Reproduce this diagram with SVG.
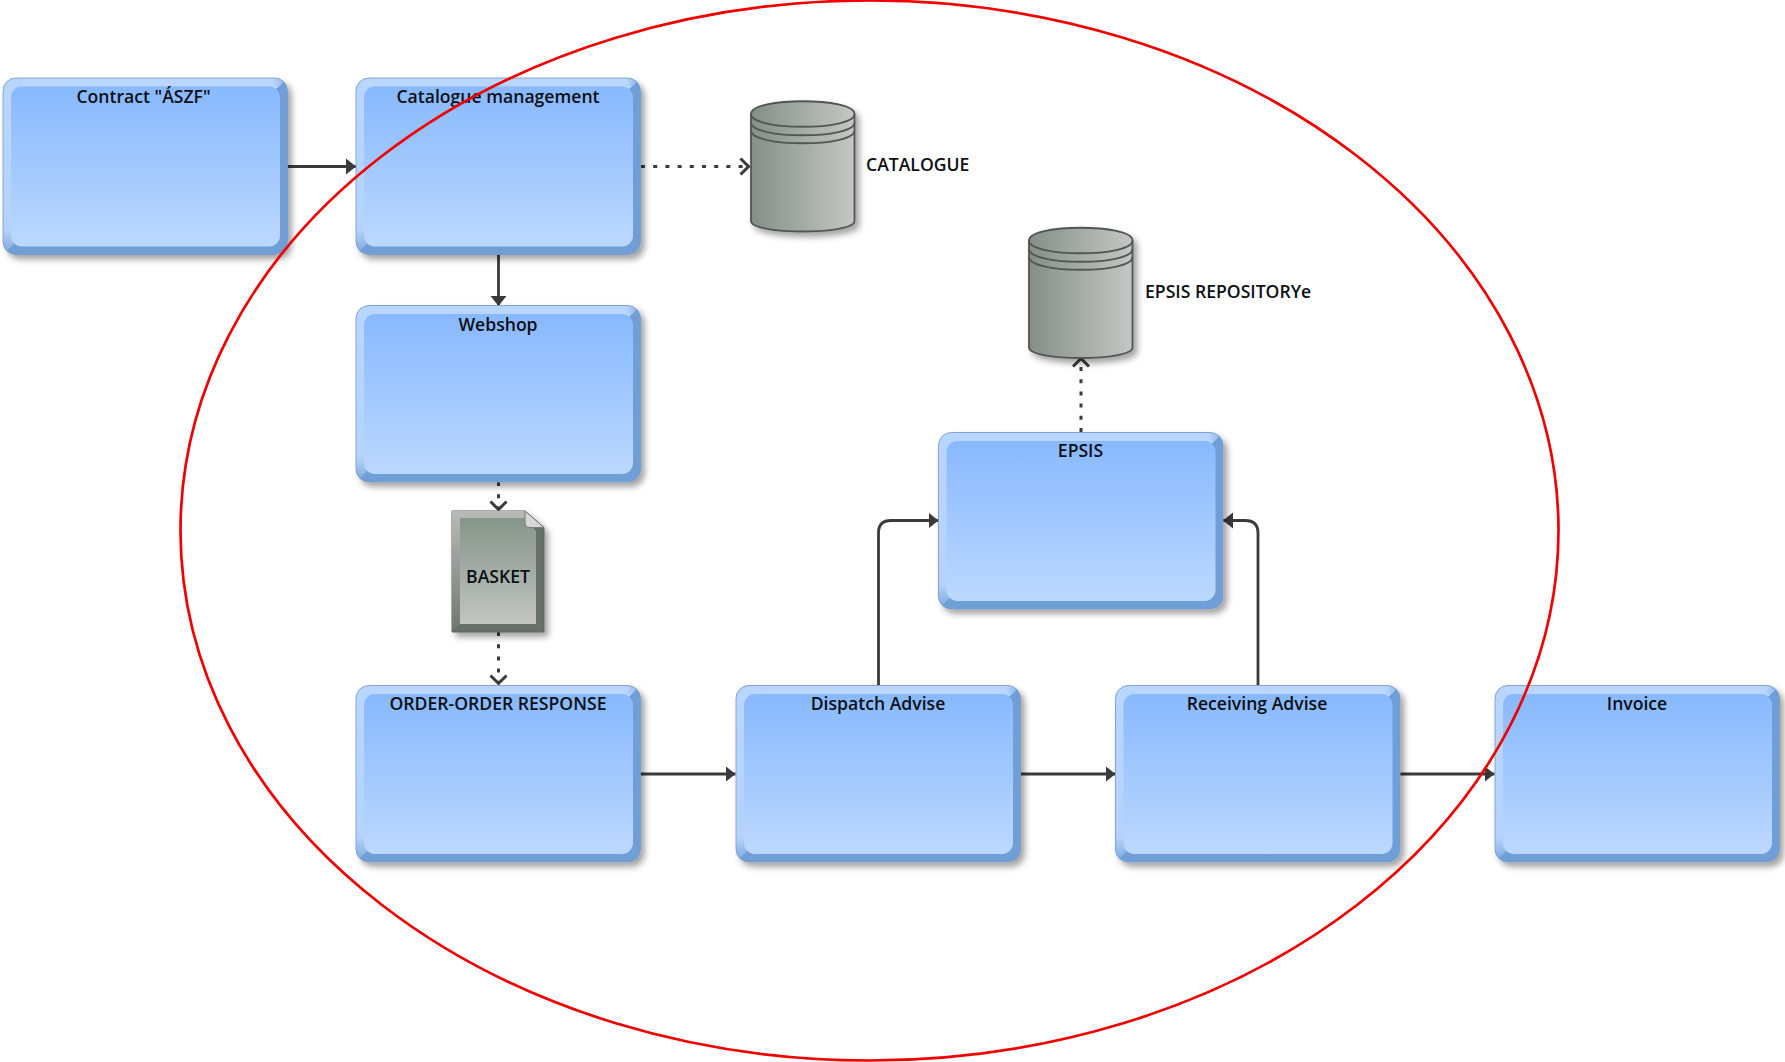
<svg xmlns="http://www.w3.org/2000/svg" width="1785" height="1062" viewBox="0 0 1785 1062">
<style>
text{font-family:"Open Sans","Noto Sans","Liberation Sans",sans-serif;font-weight:600;font-size:17.6px;fill:#0c0f14;text-anchor:middle}
.lab{text-anchor:start}
.c{fill:none;stroke:#3a3a3a;stroke-width:2.8}
.d{fill:none;stroke:#3a3a3a;stroke-width:3;stroke-dasharray:4 8.2}
.rim{fill:none;stroke:#505652;stroke-width:1.8}
</style>
<defs>
<linearGradient id="inner" x1="0" y1="0" x2="0" y2="1"><stop offset="0" stop-color="#88b9fe"/><stop offset="1" stop-color="#bcd8fe"/></linearGradient>
<linearGradient id="leftb" x1="0" y1="0" x2="0" y2="1"><stop offset="0" stop-color="#b8d6fe"/><stop offset=".86" stop-color="#b4d2fc"/><stop offset="1" stop-color="#7ba7dc"/></linearGradient>
<linearGradient id="topb" gradientUnits="userSpaceOnUse" x1="0" y1="0" x2="284.500" y2="0"><stop offset="0" stop-color="#b8d6fe"/><stop offset=".95" stop-color="#b8d6fe"/><stop offset="1" stop-color="#85aee0"/></linearGradient>
<linearGradient id="cyl" x1="0" y1="0" x2="1" y2="0"><stop offset="0" stop-color="#858f86"/><stop offset="1" stop-color="#c4c7c5"/></linearGradient>
<linearGradient id="doc" x1="0" y1="0" x2="0" y2="1"><stop offset="0" stop-color="#86968a"/><stop offset="1" stop-color="#c2c4c2"/></linearGradient>
<linearGradient id="docl" x1="0" y1="0" x2="0" y2="1"><stop offset="0" stop-color="#b8bab8"/><stop offset="1" stop-color="#6f776f"/></linearGradient>
<filter id="sh" x="-10%" y="-10%" width="125%" height="125%"><feDropShadow dx="4" dy="4.5" stdDeviation="3" flood-color="#000" flood-opacity=".36"/></filter>
<clipPath id="outerclip"><rect x="0" y="0" width="284.500" height="176.500" rx="13"/></clipPath>
<g id="box" filter="url(#sh)">
<rect x="0" y="0" width="284.500" height="176.500" rx="13" fill="#709ed6"/>
<g clip-path="url(#outerclip)">
<path d="M0 0H284.500L264 20H20V157L0 176.500Z" fill="url(#leftb)"/>
<path d="M0 0H284.500L276 8.500H8Z" fill="url(#topb)"/>
</g>
<rect x="8" y="8.500" width="269" height="160" rx="11" fill="url(#inner)"/>
<rect x="0" y="0" width="284.500" height="176.500" rx="13" fill="none" stroke="#7a99c4" stroke-width=".8"/>
</g>
<g id="cylinder" filter="url(#sh)">
<path d="M0 13C0 -4 103.500 -4 103.500 13V120C103.500 134 0 134 0 120Z" fill="url(#cyl)" stroke="#505652" stroke-width="1.800"/>
<path class="rim" d="M0 13C0 30 103.500 30 103.500 13"/>
<path class="rim" d="M0 21.500C0 38.500 103.500 38.500 103.500 21.500"/>
<path class="rim" d="M0 29.500C0 46.500 103.500 46.500 103.500 29.500"/>
</g>
<marker id="solid" markerUnits="userSpaceOnUse" markerWidth="12" markerHeight="20" refX="10" refY="9" orient="auto"><path d="M0 1L10 9L0 17Z" fill="#3a3a3a"/></marker>
<marker id="open" markerUnits="userSpaceOnUse" markerWidth="14" markerHeight="22" refX="10.500" refY="10" orient="auto"><path d="M2 2L10 10L2 18" fill="none" stroke="#3a3a3a" stroke-width="3"/></marker>
</defs>

<g id="connectors">
<path class="c" d="M287 166.500H356" marker-end="url(#solid)"/>
<path class="c" d="M498.500 254V306" marker-end="url(#solid)"/>
<path class="c" d="M640 774H735.500" marker-end="url(#solid)"/>
<path class="c" d="M1021 774H1115.500" marker-end="url(#solid)"/>
<path class="c" d="M1400 774H1494.500" marker-end="url(#solid)"/>
<path class="c" d="M878.500 685V533Q878.500 520.500 891 520.500H938.500" marker-end="url(#solid)"/>
<path class="c" d="M1258 685V533Q1258 520.500 1245 520.500H1223" marker-end="url(#solid)"/>
<path class="d" d="M641 166.500H749" marker-end="url(#open)"/>
<path class="d" d="M1081 432V358" marker-end="url(#open)"/>
<path class="d" d="M498.500 482V510" marker-end="url(#open)"/>
<path class="d" d="M498.500 632V684" marker-end="url(#open)"/>
</g>

<g id="node-contract"><use href="#box" x="3" y="78"/><text x="143.500" y="103">Contract "ÁSZF"</text></g>
<g id="node-catalogue"><use href="#box" x="356" y="78"/><text x="498" y="103">Catalogue management</text></g>
<g id="node-webshop"><use href="#box" x="356" y="305.500"/><text x="498" y="331">Webshop</text></g>
<g id="node-order"><use href="#box" x="356" y="685.500"/><text x="498" y="710">ORDER-ORDER RESPONSE</text></g>
<g id="node-dispatch"><use href="#box" x="736" y="685.500"/><text x="878" y="710">Dispatch Advise</text></g>
<g id="node-receiving"><use href="#box" x="1115.500" y="685.500"/><text x="1257" y="710">Receiving Advise</text></g>
<g id="node-invoice"><use href="#box" x="1495" y="685.500"/><text x="1637" y="710">Invoice</text></g>
<g id="node-epsis"><use href="#box" x="938.500" y="432.500"/><text x="1080.500" y="457">EPSIS</text></g>

<g id="node-catalogue-store"><use href="#cylinder" x="751" y="101"/><text class="lab" x="866" y="171">CATALOGUE</text></g>
<g id="node-epsis-repository"><use href="#cylinder" x="1029" y="227.500"/><text class="lab" x="1145" y="297.500">EPSIS REPOSITORYe</text></g>

<g id="node-basket">
<g filter="url(#sh)">
<path d="M452 511H525L544 527.500V632H452Z" fill="#667067" stroke="#5c645e" stroke-width="1"/>
<path d="M452 511H525V518.500H460V624L452 632Z" fill="url(#docl)"/>
<path d="M460 519H525L536 531V624H460Z" fill="url(#doc)"/>
<path d="M525 511L544 527.500H530Q525 527.500 525 522Z" fill="#d6d8d8" stroke="#777d78" stroke-width="1"/>
</g>
<text x="498" y="582.500">BASKET</text>
</g>

<ellipse id="red-ellipse" cx="869.500" cy="530.500" rx="689" ry="530" fill="none" stroke="#f00000" stroke-width="2.700"/>
</svg>
